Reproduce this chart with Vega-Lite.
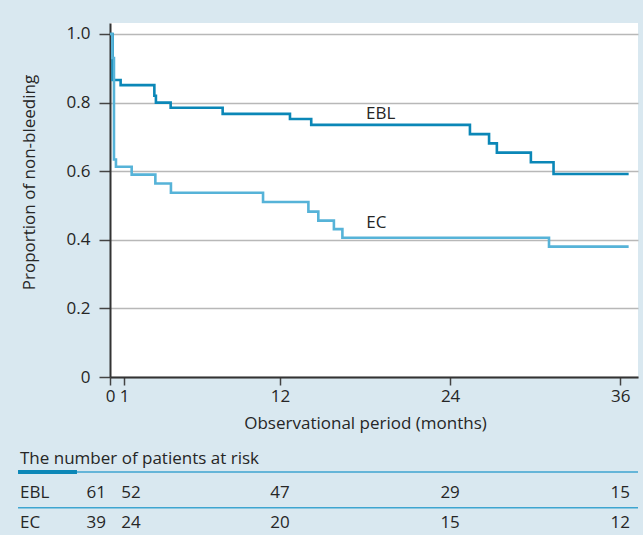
{
  "$schema": "https://vega.github.io/schema/vega-lite/v6.json",
  "autosize": {"type": "pad"},
  "padding": {"left": 16, "top": 23, "right": 5, "bottom": 0},
  "background": "#d9e8f0",
  "config": {"font": "Open Sans", "view": {"stroke": null}},
  "bounds": "flush",
  "spacing": 101.25,
  "resolve": {"scale": {"x": "independent", "y": "independent", "color": "independent"}},
  "datasets": {
    "km": [
      {"group": "EBL", "month": 0, "proportion": 1.0},
      {"group": "EBL", "month": 0.18, "proportion": 0.866},
      {"group": "EBL", "month": 0.75, "proportion": 0.851},
      {"group": "EBL", "month": 3.13, "proportion": 0.82},
      {"group": "EBL", "month": 3.24, "proportion": 0.8},
      {"group": "EBL", "month": 4.28, "proportion": 0.785},
      {"group": "EBL", "month": 7.95, "proportion": 0.767},
      {"group": "EBL", "month": 12.7, "proportion": 0.752},
      {"group": "EBL", "month": 14.2, "proportion": 0.735},
      {"group": "EBL", "month": 25.4, "proportion": 0.708},
      {"group": "EBL", "month": 26.75, "proportion": 0.681},
      {"group": "EBL", "month": 27.3, "proportion": 0.654},
      {"group": "EBL", "month": 29.7, "proportion": 0.626},
      {"group": "EBL", "month": 31.3, "proportion": 0.592},
      {"group": "EBL", "month": 36.6, "proportion": 0.592},
      {"group": "EC", "month": 0, "proportion": 1.0},
      {"group": "EC", "month": 0.16, "proportion": 0.93},
      {"group": "EC", "month": 0.28, "proportion": 0.634},
      {"group": "EC", "month": 0.42, "proportion": 0.613},
      {"group": "EC", "month": 1.53, "proportion": 0.59},
      {"group": "EC", "month": 3.2, "proportion": 0.564},
      {"group": "EC", "month": 4.3, "proportion": 0.537},
      {"group": "EC", "month": 10.8, "proportion": 0.51},
      {"group": "EC", "month": 14.0, "proportion": 0.482},
      {"group": "EC", "month": 14.7, "proportion": 0.456},
      {"group": "EC", "month": 15.8, "proportion": 0.431},
      {"group": "EC", "month": 16.4, "proportion": 0.406},
      {"group": "EC", "month": 30.98, "proportion": 0.38},
      {"group": "EC", "month": 36.6, "proportion": 0.38}
    ],
    "risk": [
      {"group": "EBL", "month": 0, "n": 61},
      {"group": "EBL", "month": 1, "n": 52},
      {"group": "EBL", "month": 12, "n": 47},
      {"group": "EBL", "month": 24, "n": 29},
      {"group": "EBL", "month": 36, "n": 15},
      {"group": "EC", "month": 0, "n": 39},
      {"group": "EC", "month": 1, "n": 24},
      {"group": "EC", "month": 12, "n": 20},
      {"group": "EC", "month": 24, "n": 15},
      {"group": "EC", "month": 36, "n": 12}
    ]
  },
  "vconcat": [
    {
      "width": 528,
      "height": 354,
      "view": {"fill": "white", "stroke": null},
      "layer": [
        {
          "data": {"name": "km"},
          "mark": {"type": "line", "interpolate": "step-after", "strokeWidth": 2.6},
          "encoding": {
            "x": {
              "field": "month", "type": "quantitative",
              "scale": {"domain": [0, 37.26], "nice": false, "zero": false},
              "axis": {
                "values": [0, 1, 12, 24, 36],
                "title": "Observational period (months)",
                "titleX": 255,
                "titlePadding": 11,
                "titleFontSize": 17,
                "titleFontWeight": "normal",
                "titleColor": "#262626",
                "labelFontSize": 17,
                "labelColor": "#262626",
                "labelPadding": 3,
                "labelFlush": false,
                "labelOverlap": false,
                "tickSize": 8,
                "tickColor": "#444444",
                "tickWidth": 1.5,
                "domainColor": "#333333",
                "domainWidth": 2,
                "grid": false
              }
            },
            "y": {
              "field": "proportion", "type": "quantitative",
              "scale": {"domain": [0, 1.032], "nice": false},
              "axis": {
                "values": [0, 0.1, 0.2, 0.3, 0.4, 0.5, 0.6, 0.7, 0.8, 0.9, 1.0],
                "labelExpr": "datum.value == 0 ? '0' : (round(datum.value * 10) % 2 == 0 ? format(datum.value, '.1f') : '')",
                "title": "Proportion of non-bleeding",
                "titleX": -72,
                "titleY": 159,
                "titleFontSize": 17,
                "titleFontWeight": "normal",
                "titleColor": "#262626",
                "labelFontSize": 17,
                "labelColor": "#262626",
                "labelPadding": 9,
                "labelFlush": false,
                "labelOverlap": false,
                "tickSize": 11,
                "tickColor": "#444444",
                "tickWidth": 1.5,
                "domainColor": "#333333",
                "domainWidth": 2,
                "grid": true,
                "gridColor": "#b8b8b8",
                "gridWidth": 1.5
              }
            },
            "color": {
              "field": "group", "type": "nominal",
              "scale": {"domain": ["EBL", "EC"], "range": ["#0b87b7", "#56b3d8"]},
              "legend": null
            }
          }
        },
        {
          "data": {"values": [{"label": "EBL"}]},
          "mark": {"type": "text", "fontSize": 17, "color": "#262626"},
          "encoding": {
            "x": {"datum": 19.1, "type": "quantitative"},
            "y": {"datum": 0.767, "type": "quantitative"},
            "text": {"field": "label"}
          }
        },
        {
          "data": {"values": [{"label": "EC"}]},
          "mark": {"type": "text", "fontSize": 17, "color": "#262626"},
          "encoding": {
            "x": {"datum": 18.8, "type": "quantitative"},
            "y": {"datum": 0.449, "type": "quantitative"},
            "text": {"field": "label"}
          }
        }
      ]
    },
    {
      "width": 528,
      "height": 59,
      "view": {"fill": null, "stroke": null},
      "title": {
        "text": "The number of patients at risk",
        "anchor": "start",
        "frame": "group",
        "dx": -90,
        "offset": -6,
        "baseline": "middle",
        "fontSize": 17,
        "fontWeight": "normal",
        "color": "#262626"
      },
      "layer": [
        {
          "data": {"values": [{"row": "EBL"}]},
          "mark": {"type": "rule", "color": "#3ea5d0", "strokeWidth": 1.5, "yOffset": -6.25},
          "encoding": {
            "x": {"datum": -6.49, "type": "quantitative", "scale": {"domain": [0, 37.26], "nice": false, "zero": false}, "axis": null},
            "x2": {"datum": 37.26},
            "y": {"field": "row", "type": "nominal", "bandPosition": 0, "scale": {"type": "band", "domain": ["EBL", "EC"], "paddingInner": 0, "paddingOuter": 0}, "axis": null}
          }
        },
        {
          "data": {"values": [{"row": "EBL"}]},
          "mark": {"type": "rule", "color": "#0b87b7", "strokeWidth": 4, "yOffset": -6.25},
          "encoding": {
            "x": {"datum": -6.49, "type": "quantitative"},
            "x2": {"datum": -2.33},
            "y": {"field": "row", "type": "nominal", "bandPosition": 0}
          }
        },
        {
          "data": {"values": [{"row": "EC"}]},
          "mark": {"type": "rule", "color": "#3ea5d0", "strokeWidth": 1.5},
          "encoding": {
            "x": {"datum": -6.49, "type": "quantitative"},
            "x2": {"datum": 37.26},
            "y": {"field": "row", "type": "nominal", "bandPosition": 0}
          }
        },
        {
          "data": {"name": "risk"},
          "transform": [{"filter": "datum.month == 0"}],
          "mark": {"type": "text", "align": "left", "fontSize": 17, "color": "#262626"},
          "encoding": {
            "x": {"datum": -6.35, "type": "quantitative"},
            "y": {"field": "group", "type": "nominal"},
            "text": {"field": "group"}
          }
        },
        {
          "data": {"name": "risk"},
          "transform": [{"filter": "datum.month == 0"}],
          "mark": {"type": "text", "align": "right", "dx": -4, "fontSize": 17, "color": "#262626"},
          "encoding": {
            "x": {"field": "month", "type": "quantitative"},
            "y": {"field": "group", "type": "nominal"},
            "text": {"field": "n"}
          }
        },
        {
          "data": {"name": "risk"},
          "transform": [{"filter": "datum.month == 1"}],
          "mark": {"type": "text", "align": "left", "dx": -3, "fontSize": 17, "color": "#262626"},
          "encoding": {
            "x": {"field": "month", "type": "quantitative"},
            "y": {"field": "group", "type": "nominal"},
            "text": {"field": "n"}
          }
        },
        {
          "data": {"name": "risk"},
          "transform": [{"filter": "datum.month > 1"}],
          "mark": {"type": "text", "align": "center", "fontSize": 17, "color": "#262626"},
          "encoding": {
            "x": {"field": "month", "type": "quantitative"},
            "y": {"field": "group", "type": "nominal"},
            "text": {"field": "n"}
          }
        }
      ]
    }
  ]
}
